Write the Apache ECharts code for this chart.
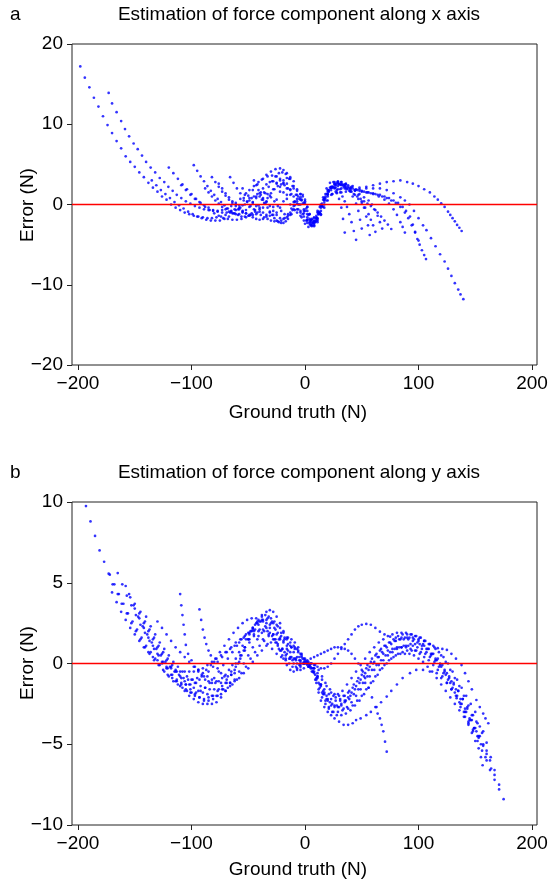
<!DOCTYPE html>
<html><head><meta charset="utf-8">
<script src="https://cdn.jsdelivr.net/npm/echarts@6/dist/echarts.min.js"></script>
<style>html,body{margin:0;padding:0;background:#fff}#c{width:548px;height:884px}</style>
</head><body><div id="c"></div>
<script>
// ---------- tick labels ----------
const xTicks = [-200, -100, 0, 100, 200];
const yTicksA = [-20, -10, 0, 10, 20];
const yTicksB = [-10, -5, 0, 5, 10];
const titleA = 'Estimation of force component along x axis';
const titleB = 'Estimation of force component along y axis';
const xLabel = 'Ground truth (N)';
const yLabel = 'Error (N)';
const X_MIN = -205.3, X_MAX = 204.4;   // x-axis extent
const ZERO = 0;                        // reference error level (red line)

// ---------- panel a: x-component error trajectories [ground truth, error] ----------
const a1 = [[-198,17.2],[-194,15.8],[-190,14.6],[-186,13.3],[-182,12.2],[-178,11.0],[-174,9.9],[-170,8.9],[-166,7.9],[-162,7.0],[-158,6.0],[-154,5.3],[-150,4.7],[-146,4.0],[-142,3.4],[-138,2.7],[-134,2.1],[-130,1.6],[-126,1.0],[-122,0.6],[-118,0.0],[-114,-0.4],[-110,-0.7],[-106,-1.0],[-102,-1.2],[-98,-1.4],[-94,-1.5],[-90,-1.6],[-86,-1.7],[-82,-1.7],[-78,-1.6],[-74,-1.5],[-70,-1.3],[-66,-1.0],[-62,-0.6],[-58,-0.1],[-54,0.5],[-50,1.1],[-46,1.8],[-42,2.5],[-38,3.1],[-34,3.7],[-30,4.1],[-26,4.4],[-22,4.5],[-19,4.3],[-16,3.9],[-13,3.2],[-10,2.3],[-7,1.2],[-4,0.0],[-1,-1.1],[2,-2.0],[5,-2.5],[8,-2.4],[11,-1.8],[14,-0.8],[17,0.3],[20,1.3],[23,2.1],[26,2.6],[29,2.8],[32,2.8],[36,2.6],[42,2.3],[48,2.1],[54,2.0],[60,2.0],[66,2.0],[72,1.8],[78,1.4],[84,0.9],[88,0.5],[92,0.0],[96,-0.8],[100,-1.7],[104,-2.6],[107,-3.2],[111,-4.2],[115,-5.2],[119,-6.2],[123,-7.1],[126,-8.0],[129,-8.9],[132,-9.8],[135,-10.6],[137,-11.2],[139.5,-11.8]];
const a2 = [[-173,13.9],[-170,12.6],[-166,11.5],[-162,10.4],[-158.6,9.4],[-155,8.5],[-151,7.6],[-147.4,6.9],[-143.6,6.1],[-140,5.3],[-136,4.6],[-132,4.0],[-128,3.3],[-124,2.8],[-120.4,2.2],[-116.6,1.7],[-113,1.2],[-109,0.8],[-105,0.4],[-101,0.1],[-97,-0.2],[-93,-0.4],[-89,-0.6],[-85,-0.7],[-81,-0.8],[-77,-0.8],[-73,-0.7],[-69,-0.5],[-65,-0.2],[-61,0.2],[-57,0.7],[-53,1.2],[-49,1.8],[-45,2.3],[-41,2.8],[-37,3.2],[-33,3.5],[-29,3.6],[-25,3.5],[-22,3.2],[-19,2.7],[-16,2.0],[-13,1.2],[-10,0.3],[-7,-0.6],[-4,-1.4],[-1,-2.0],[2,-2.3],[5,-2.2],[8,-1.6],[11,-0.8],[14,0.0],[17,0.6],[20,1.0],[24,1.3],[28,1.4],[32,1.5],[36,1.6],[40,1.7],[44,1.8],[48,1.9],[54,2.2],[60,2.4],[66,2.6],[72,2.8],[78,2.9],[84,3.0],[90,2.8],[95,2.6],[100,2.3],[105,1.9],[110,1.5],[114,1.0],[117,0.6],[120,0.15],[123,-0.3],[126,-0.9],[128,-1.3],[130,-1.7],[132,-2.1],[134,-2.55],[136,-2.9],[138,-3.3]];
const a3 = [[-120,4.6],[-116,3.9],[-112,3.2],[-108,2.5],[-104,1.9],[-100,1.3],[-96,0.7],[-92,0.2],[-88,-0.3],[-84,-0.7],[-80,-1.1],[-76,-1.4],[-72,-1.7],[-68,-1.8],[-64,-1.9],[-60,-1.9],[-56,-1.8],[-52,-1.6],[-48,-1.3],[-44,-0.9],[-40,-0.4],[-36,0.2],[-33,0.8],[-30,1.4],[-27,1.9],[-24,2.3],[-21,2.5],[-18,2.4],[-15,2.0],[-12,1.3],[-9,0.4],[-6,-0.6],[-3,-1.6],[0,-2.4],[3,-2.8],[6,-2.7],[9,-2.1],[12,-1.2],[15,-0.2],[18,0.8],[21,1.6],[24,2.1],[27,2.4],[30,2.5],[34,2.4],[38,2.2],[42,2.0],[46,1.8],[50,1.6],[54,1.5],[58,1.4],[62,1.3],[66,1.2],[70,1.0],[74,0.8],[78,0.5],[82,0.2],[86,-0.3],[89,-0.8],[92.5,-1.5],[95,-2.5],[97,-3.4],[99,-4.3],[101,-5.0],[103,-5.7],[105,-6.3],[106.6,-6.8]];
const a4 = [[-98,4.9],[-95,4.2],[-92,3.5],[-89,2.9],[-86,2.3],[-83,1.7],[-80,1.2],[-77,0.7],[-74,0.3],[-71,-0.1],[-68,-0.5],[-65,-0.8],[-62,-1.1],[-59,-1.3],[-56,-1.5],[-53,-1.5],[-50,-1.4],[-47,-1.1],[-44,-0.7],[-41,-0.1],[-38,0.6],[-35,1.4],[-32,2.2],[-29,2.9],[-26,3.5],[-23,3.9],[-20,4.0],[-17,3.8],[-14,3.2],[-11,2.3],[-8,1.2],[-5,0.0],[-2,-1.2],[1,-2.0],[4,-2.4],[7,-2.2],[10,-1.4],[13,-0.3],[16,0.9],[19,2.0],[22,2.7],[25,2.8],[28,2.7],[31,2.5],[34,2.2],[37,1.9],[40,1.6],[43,1.3],[46,1.0],[49,0.7],[52,0.4],[55,0.1],[58,-0.2],[61,-0.6],[64,-1.0],[67,-1.5],[70,-2.0],[73,-2.5],[76,-3.05]];
const a5 = [[-82,3.4],[-79,2.8],[-76,2.2],[-73,1.6],[-70,1.1],[-67,0.6],[-64,0.2],[-61,-0.2],[-58,-0.6],[-55,-0.9],[-52,-1.1],[-49,-1.3],[-46,-1.3],[-43,-1.2],[-40,-0.9],[-37,-0.4],[-34,0.3],[-31,1.1],[-28,1.9],[-25,2.6],[-22,3.0],[-19,3.0],[-16,2.6],[-13,1.9],[-10,1.0],[-7,0.1],[-4,-0.8],[-1,-1.5],[2,-1.9],[5,-2.0],[8,-1.7],[11,-1.0],[14,-0.1],[17,0.8],[20,1.6],[23,2.1],[26,2.5],[29,2.6],[32,2.5],[35,2.3],[38,2.0],[41,1.6],[44,1.2],[47,0.7],[50,0.2],[53,-0.4],[56,-1.2],[58,-1.9],[60,-2.6],[62,-3.4]];
const a6 = [[-66,3.4],[-63,2.7],[-60,2.0],[-57,1.4],[-54,0.8],[-51,0.3],[-48,-0.2],[-45,-0.6],[-42,-1.0],[-39,-1.3],[-36,-1.6],[-33,-1.8],[-30,-2.0],[-27,-2.1],[-24,-2.1],[-21,-2.0],[-18,-1.7],[-15,-1.2],[-12,-0.5],[-9,0.3],[-6,1.0],[-4,1.3],[-2,1.0],[0,0.2],[2,-0.8],[4,-1.8],[6,-2.6],[8,-2.6],[10,-2.0],[12,-1.2],[14,-0.4],[17,0.6],[20,1.3],[23,1.8],[26,2.1],[29,2.3],[32,2.4],[35,2.5],[38,2.4],[41,2.2],[44,1.8],[47,1.2],[50,0.4],[52,-0.4],[54,-1.5],[55.5,-2.6],[57,-3.8]];
const a7 = [[-45,3.0],[-43,2.4],[-41,1.8],[-39,1.2],[-37,0.6],[-35,0.1],[-33,-0.4],[-31,-0.9],[-29,-1.3],[-27,-1.7],[-25,-2.0],[-23,-2.2],[-21,-2.3],[-19,-2.3],[-17,-2.1],[-15,-1.8],[-13,-1.3],[-11,-0.7],[-9,-0.1],[-7,0.4],[-5,0.7],[-3,0.6],[-1,0.2],[1,-0.5],[3,-1.3],[5,-2.0],[7,-2.3],[9,-2.2],[11,-1.7],[13,-1.0],[15,-0.2],[17,0.6],[19,1.3],[21,1.8],[23,2.1],[25,2.2],[27,2.1],[29,1.9],[31,1.5],[33,1.0],[35,0.4],[37,-0.3],[39,-1.2],[41,-2.2],[43,-3.3],[45,-4.4]];
const a8 = [[-109,2.4],[-105,1.8],[-101,1.2],[-97,0.7],[-93,0.3],[-89,-0.1],[-85,-0.4],[-81,-0.7],[-77,-0.9],[-73,-1.0],[-69,-1.0],[-65,-0.9],[-61,-0.7],[-57,-0.4],[-53,0.0],[-49,0.5],[-45,1.0],[-42,1.3],[-39,1.5],[-36,1.5],[-33,1.3],[-30,0.9],[-27,0.4],[-24,-0.2],[-21,-0.8],[-18,-1.2],[-15,-1.4],[-12,-1.2],[-9,-0.7],[-6,0.0],[-3,0.5],[0,0.4],[2,-0.3],[4,-1.2],[6,-1.9],[8,-2.1],[10,-1.7],[12,-1.0],[14,-0.2],[16,0.6],[18,1.3],[20,1.8],[22,2.1],[24,2.2],[26,2.0],[28,1.5],[30,0.7],[32,-0.4],[33.5,-1.8],[35,-3.5]];
const a9 = [[-55,2.0],[-52,1.4],[-49,0.8],[-46,0.3],[-43,-0.2],[-40,-0.6],[-37,-1.0],[-34,-1.3],[-31,-1.4],[-28,-1.3],[-25,-1.0],[-22,-0.4],[-19,0.4],[-16,1.2],[-13,1.8],[-10,2.0],[-7,1.7],[-4,0.9],[-2,0.1],[0,-0.8],[2,-1.6],[4,-2.2],[6,-2.4],[8,-2.2],[10,-1.6],[12,-0.9],[15,0.1],[18,1.0],[21,1.7],[24,2.2],[27,2.5],[30,2.6],[33,2.5],[36,2.2],[39,1.7],[42,1.0],[45,0.1],[47,-0.8],[48.5,-1.9],[50,-3.0]];
const a10 = [[-88,2.0],[-85,1.5],[-82,1.0],[-79,0.5],[-76,0.1],[-73,-0.3],[-70,-0.6],[-67,-0.9],[-64,-1.1],[-61,-1.2],[-58,-1.2],[-55,-1.0],[-52,-0.7],[-49,-0.3],[-46,0.2],[-43,0.8],[-40,1.4],[-37,2.0],[-34,2.5],[-31,2.8],[-28,2.9],[-25,2.7],[-22,2.2],[-19,1.5],[-16,0.7],[-13,0.0],[-10,-0.6],[-7,-1.0],[-4,-1.0],[-1,-0.6],[2,-1.2],[5,-1.9],[8,-2.2],[11,-2.0],[14,-1.3],[17,-0.4],[20,0.5],[24,1.3],[28,1.8],[32,2.0],[36,2.0],[40,1.9],[44,1.8],[48,1.7],[52,1.6],[56,1.5],[60,1.4],[64,1.2],[68,1.0],[72,0.8],[76,0.5],[80,0.2],[84,-0.3],[88,-1.0],[91,-1.7],[94,-2.6],[97,-3.5],[100,-4.5]];
const a11 = [[-76,2.6],[-73,2.0],[-70,1.4],[-67,0.9],[-64,0.4],[-61,0.0],[-58,-0.4],[-55,-0.8],[-52,-1.1],[-49,-1.4],[-46,-1.6],[-43,-1.8],[-40,-1.9],[-37,-1.8],[-34,-1.5],[-31,-1.0],[-28,-0.3],[-25,0.6],[-22,1.6],[-19,2.6],[-16,3.3],[-13,3.4],[-10,2.9],[-7,1.9],[-4,0.6],[-1,-0.8],[2,-1.9],[5,-2.6],[8,-2.7],[11,-2.2],[14,-1.2],[17,0.0],[20,1.2],[23,2.2],[26,2.8],[29,2.9],[32,2.8],[36,2.5],[40,2.1],[44,1.7],[48,1.3],[52,0.9],[56,0.5],[59,0.0],[62,-0.7],[64,-1.4],[66,-2.2],[68,-3.0]];
const a12 = [[-135,3.0],[-131,2.4],[-127,1.8],[-123,1.3],[-119,0.8],[-115,0.3],[-111,-0.1],[-107,-0.5],[-103,-0.9],[-99,-1.2],[-95,-1.5],[-91,-1.7],[-87,-1.9],[-83,-2.0],[-79,-2.0],[-75,-2.0],[-71,-1.8],[-67,-1.5],[-63,-1.1],[-59,-0.6],[-55,-0.1],[-51,0.4],[-47,0.8],[-43,1.0],[-40,1.0],[-37,0.8],[-34,0.4],[-31,-0.2],[-28,-0.8],[-25,-1.3],[-22,-1.7],[-19,-1.8],[-16,-1.6],[-13,-1.0],[-10,-0.2],[-7,0.7],[-4,1.3],[-2,1.2],[0,0.6],[2,-0.3],[4,-1.2],[6,-1.8],[8,-2.0],[10,-1.8],[13,-1.1],[16,-0.3],[19,0.5],[23,1.2],[27,1.6],[31,1.9],[35,2.0],[40,2.0],[45,1.9],[50,1.7],[55,1.5],[60,1.3],[65,1.0],[70,0.6],[74,0.1],[78,-0.6],[81,-1.3],[84,-2.2],[86,-2.8],[88,-3.5]];

// ---------- panel b: y-component error trajectories [ground truth, error] ----------
const b1 = [[-193,9.75],[-189,8.8],[-185,7.9],[-181,7.0],[-177,6.3],[-173,5.56],[-169.5,4.9],[-165,4.3],[-161.5,3.7],[-157,3.1],[-153,2.5],[-149,2.0],[-145,1.5],[-141,1.0],[-137,0.6],[-133,0.2],[-129,-0.1],[-125,-0.4],[-121,-0.7],[-117,-0.9],[-113,-1.1],[-109,-1.2],[-105,-1.3],[-101,-1.3],[-97,-1.2],[-93,-1.0],[-89,-0.8],[-85,-0.5],[-81,-0.2],[-77,0.1],[-73,0.4],[-69,0.7],[-65,1.0],[-61,1.3],[-57,1.5],[-53,1.7],[-49,1.8],[-45,1.8],[-41,1.7],[-37,1.5],[-33,1.2],[-29,0.9],[-25,0.6],[-21,0.4],[-17,0.3],[-13,0.3],[-9,0.3],[-5,0.2],[-1,0.0],[3,-0.2],[7,-0.3],[11,-0.6],[15,-1.0],[19,-1.4],[23,-1.8],[27,-2.1],[31,-2.3],[35,-2.3],[39,-2.2],[43,-1.9],[47,-1.6],[51,-1.2],[55,-0.8],[59,-0.4],[63,-0.1],[67,0.2],[71,0.5],[75,0.7],[79,0.9],[83,1.0],[87,1.1],[91,1.1],[95,1.1],[99,1.0],[103,0.9],[107,0.7],[111,0.5],[115,0.2],[119,-0.1],[123,-0.5],[127,-0.9],[131,-1.3],[135,-1.7],[139,-2.2],[143,-2.8],[147,-3.5],[151,-4.2],[155,-5.0],[159,-5.8],[163,-6.6],[167,-7.2],[171,-7.8],[175,-8.4]];
const b2 = [[-172,5.5],[-168,4.9],[-164,4.3],[-160,3.7],[-156,3.1],[-152,2.6],[-148,2.1],[-144,1.6],[-140,1.1],[-136,0.7],[-132,0.3],[-128,-0.1],[-124,-0.5],[-120,-0.8],[-116,-1.1],[-112,-1.3],[-108,-1.5],[-104,-1.7],[-100,-1.8],[-96,-1.8],[-92,-1.7],[-88,-1.5],[-84,-1.2],[-80,-0.9],[-76,-0.5],[-72,-0.1],[-68,0.3],[-64,0.7],[-60,1.1],[-56,1.5],[-52,1.8],[-48,2.0],[-44,2.1],[-40,2.1],[-36,2.0],[-32,1.8],[-28,1.5],[-24,1.2],[-20,0.9],[-16,0.6],[-12,0.4],[-8,0.2],[-4,0.1],[0,0.0],[4,-0.1],[8,-0.3],[11,-0.8],[14,-1.3],[17,-1.8],[20,-2.2],[24,-2.5],[28,-2.6],[32,-2.5],[36,-2.3],[40,-2.0],[44,-1.6],[48,-1.2],[52,-0.8],[56,-0.4],[60,0.0],[64,0.4],[68,0.7],[72,1.0],[76,1.2],[80,1.4],[84,1.5],[88,1.6],[92,1.6],[96,1.5],[100,1.4],[104,1.2],[108,0.9],[112,0.6],[116,0.2],[120,-0.2],[124,-0.7],[128,-1.2],[132,-1.8],[136,-2.4],[140,-3.0],[144,-3.6],[148,-4.2],[152,-4.8],[156,-5.4],[160,-6.0],[164,-6.5],[167,-6.9],[171,-7.5]];
const b3 = [[-165,5.6],[-161,4.9],[-157,4.2],[-153,3.6],[-149,3.0],[-145,2.4],[-141,1.9],[-137,1.4],[-133,0.9],[-129,0.5],[-125,0.1],[-121,-0.3],[-117,-0.7],[-113,-1.0],[-109,-1.3],[-105,-1.6],[-101,-1.8],[-97,-2.0],[-93,-2.1],[-89,-2.2],[-85,-2.1],[-81,-2.0],[-77,-1.7],[-73,-1.4],[-69,-1.0],[-65,-0.5],[-61,0.0],[-57,0.5],[-53,1.0],[-49,1.5],[-45,2.0],[-41,2.4],[-37,2.7],[-33,2.8],[-30,2.8],[-27,2.6],[-24,2.3],[-21,1.9],[-18,1.5],[-15,1.2],[-12,1.0],[-9,0.9],[-6,0.7],[-3,0.4],[0,0.1],[3,-0.2],[6,-0.5],[9,-1.0],[12,-1.6],[15,-2.1],[18,-2.5],[21,-2.8],[25,-3.0],[29,-3.0],[33,-2.9],[37,-2.7],[41,-2.4],[45,-2.0],[49,-1.6],[53,-1.2],[57,-0.8],[61,-0.4],[65,-0.1],[69,0.2],[73,0.5],[77,0.7],[81,0.9],[85,1.0],[89,1.1],[93,1.2],[97,1.2],[101,1.2],[105,1.1],[109,0.9],[113,0.6],[117,0.3],[121,-0.1],[125,-0.6],[129,-1.1],[133,-1.6],[137,-2.2],[141,-2.8],[145,-3.4],[149,-4.0],[153,-4.6],[157,-5.1],[160,-5.6],[163,-6.0],[167,-6.6]];
const b4 = [[-158,4.8],[-154,4.1],[-150,3.4],[-146,2.8],[-142,2.2],[-138,1.6],[-134,1.1],[-130,0.6],[-126,0.1],[-122,-0.3],[-118,-0.7],[-114,-1.1],[-110,-1.4],[-106,-1.7],[-102,-2.0],[-98,-2.2],[-94,-2.4],[-90,-2.5],[-86,-2.5],[-82,-2.5],[-78,-2.4],[-74,-2.1],[-70,-1.7],[-66,-1.2],[-62,-0.6],[-58,0.1],[-54,0.8],[-50,1.5],[-46,2.1],[-42,2.6],[-38,3.0],[-34,3.2],[-31,3.3],[-28,3.2],[-25,2.9],[-22,2.5],[-19,2.0],[-16,1.6],[-13,1.3],[-10,1.1],[-7,0.9],[-4,0.6],[-1,0.3],[2,0.0],[5,-0.3],[8,-0.6],[10,-1.2],[12,-1.8],[14,-2.3],[17,-2.7],[20,-3.0],[23,-3.2],[26,-3.4],[30,-3.6],[34,-3.8],[38,-3.8],[42,-3.7],[45,-3.5],[49,-3.4],[54,-3.2],[58,-3.0],[63,-2.7],[67,-2.4],[72,-2.05],[76,-1.7],[81,-1.3],[86,-0.9],[92.5,-0.6],[98,-0.4],[104,-0.4],[110,-0.5],[116,-0.6],[120,-0.9],[125,-1.2],[129,-1.6],[133.6,-2.15],[137,-2.7],[141,-3.3],[144,-3.8],[147,-4.3],[150,-4.8],[153,-5.25],[155,-5.8],[156.5,-6.3]];
const b5 = [[-150,3.7],[-146,3.1],[-142,2.5],[-138,2.0],[-134,1.5],[-130,1.0],[-126,0.6],[-122,0.2],[-118,-0.2],[-114,-0.5],[-110,-0.8],[-106,-1.1],[-102,-1.3],[-98,-1.5],[-94,-1.7],[-90,-1.8],[-86,-1.9],[-82,-2.0],[-78,-2.0],[-74,-1.9],[-70,-1.7],[-66,-1.4],[-62,-1.0],[-58,-0.5],[-54,0.0],[-50,0.5],[-46,1.0],[-42,1.5],[-38,1.9],[-34,2.2],[-31,2.4],[-28,2.5],[-25,2.4],[-22,2.2],[-19,1.9],[-16,1.5],[-13,1.1],[-10,0.7],[-7,0.4],[-4,0.2],[-1,0.1],[2,0.0],[5,-0.2],[8,-0.5],[11,-0.9],[14,-1.3],[17,-1.6],[21,-1.9],[25,-2.0],[29,-1.9],[33,-1.7],[37,-1.3],[41,-0.9],[45,-0.5],[49,-0.1],[53,0.3],[57,0.7],[61,1.0],[65,1.3],[69,1.5],[73,1.7],[77,1.8],[81,1.9],[85,1.9],[89,1.9],[93,1.8],[97,1.7],[101,1.6],[105,1.4],[109,1.2],[113,1.1],[117,0.95],[121,0.9],[125,0.84],[129,0.6],[133,0.3],[137.9,-0.1],[141,-0.6],[144,-1.1],[147,-1.6],[151,-2.26],[154,-2.7],[157,-3.1],[159,-3.4],[161.5,-3.7]];
const b6 = [[-140,2.9],[-136,2.3],[-132,1.8],[-128,1.3],[-124,0.9],[-120,0.5],[-116,0.1],[-112,-0.2],[-108,-0.5],[-104,-0.8],[-100,-1.0],[-96,-1.2],[-92,-1.4],[-88,-1.5],[-84,-1.6],[-80,-1.6],[-76,-1.6],[-72,-1.6],[-68,-1.5],[-64,-1.3],[-60,-1.0],[-56,-0.6],[-52,-0.2],[-48,0.3],[-44,0.7],[-40,1.1],[-36,1.4],[-32,1.7],[-28,1.8],[-25,1.8],[-22,1.6],[-19,1.3],[-16,0.9],[-13,0.4],[-10,0.0],[-7,-0.3],[-4,-0.4],[-1,-0.3],[2,-0.1],[5,0.0],[8,-0.1],[11,-0.2],[14,-0.3],[17,-0.3],[20,-0.2],[23,0.0],[26,0.3],[29,0.6],[32,0.9],[35,1.2],[38,1.5],[41,1.8],[44,2.1],[47,2.3],[50,2.4],[54,2.45],[58,2.4],[62,2.2],[66,1.97],[70,1.8],[75,1.66],[80,1.6],[85,1.6],[90,1.6],[95,1.6],[100,1.5],[105,1.4],[110,1.2],[115,0.9],[120,0.5],[124,0.1],[128,-0.4],[132,-0.9],[136,-1.4],[140,-2.0],[144,-2.6],[148,-3.2],[152,-3.7],[156,-4.3],[160,-4.9]];
const b7 = [[-130,2.6],[-126,2.2],[-122,1.8],[-118,1.4],[-114,1.0],[-110,0.7],[-106,0.4],[-102,0.1],[-98,-0.2],[-94,-0.4],[-90,-0.6],[-86,-0.8],[-82,-1.0],[-78,-1.1],[-74,-1.2],[-70,-1.2],[-66,-1.2],[-62,-1.1],[-58,-0.9],[-54,-0.6],[-50,-0.3],[-46,0.1],[-42,0.5],[-38,0.8],[-34,1.1],[-30,1.3],[-26,1.5],[-22,1.5],[-19,1.4],[-16,1.1],[-13,0.7],[-10,0.3],[-7,0.0],[-4,-0.1],[-1,0.0],[2,0.2],[5,0.3],[8,0.4],[11,0.5],[14,0.6],[17,0.7],[20,0.8],[23,0.9],[26,1.0],[29,1.0],[32,1.0],[35,0.9],[38,0.8],[41,0.6],[44,0.3],[47,0.0],[50,-0.4],[53,-0.9],[56,-1.5],[59,-2.1],[62,-2.7],[64,-3.1],[66,-3.4],[67.5,-3.8],[69,-4.2],[70.5,-4.84],[72,-5.46]];
const b8 = [[-110,4.3],[-109,3.6],[-108,3.0],[-107,2.4],[-106,1.8],[-105,1.15],[-103,0.6],[-100,0.2],[-97,-0.2],[-94,-0.5],[-91,-0.8],[-88,-1.0],[-85,-1.1],[-82,-1.2],[-79,-1.2],[-76,-1.1],[-73,-0.9],[-70,-0.7],[-67,-0.4],[-64,-0.1],[-61,0.3],[-58,0.7],[-55,1.1],[-52,1.5],[-49,1.9],[-46,2.2],[-43,2.5],[-40,2.6],[-37,2.6],[-34,2.5],[-31,2.2],[-28,1.8],[-25,1.3],[-22,0.8],[-19,0.3],[-16,-0.1],[-13,-0.4],[-10,-0.5],[-7,-0.4],[-4,-0.2],[-1,0.0],[2,0.1],[5,0.0],[8,-0.3],[11,-0.8],[14,-1.4],[17,-1.9],[20,-2.3],[23,-2.6],[26,-2.7],[29,-2.7],[32,-2.6],[35,-2.4],[38,-2.1],[41,-1.8],[45,-1.4],[49,-1.0],[53,-0.6],[57,-0.2],[61,0.1],[65,0.4],[69,0.6],[73,0.8],[77,0.9],[81,1.0],[85,1.0],[89,1.0],[93,0.9],[97,0.8],[101,0.6],[105,0.4],[109,0.2],[113,-0.1],[117,-0.4],[121,-0.8],[125,-1.2],[129,-1.6],[133,-2.0],[137,-2.5],[141,-3.0],[145,-3.5],[149,-4.0],[153,-4.5],[157,-5.0],[160,-5.4],[163.6,-5.8]];
const b9 = [[-93,3.35],[-91.5,2.7],[-90,2.1],[-88.5,1.6],[-87,1.2],[-85,0.8],[-83,0.5],[-80,0.1],[-77,-0.3],[-74,-0.6],[-71,-0.8],[-68,-0.8],[-65,-0.7],[-62,-0.4],[-59,0.0],[-56,0.5],[-53,1.0],[-50,1.5],[-47,2.0],[-44,2.4],[-41,2.7],[-38,2.9],[-35,3.0],[-32,2.9],[-29,2.6],[-26,2.1],[-23,1.5],[-20,0.9],[-17,0.5],[-14,0.3],[-11,0.2],[-8,0.3],[-5,0.4],[-2,0.3],[1,0.1],[4,-0.1],[7,-0.5],[10,-1.0],[13,-1.5],[16,-1.9],[19,-2.2],[22,-2.4],[26,-2.6],[30,-2.7],[34,-2.8],[38,-2.8],[42,-2.6],[46,-2.3],[50,-2.0],[54,-1.6],[58,-1.2],[62,-0.8],[66,-0.4],[70,-0.1],[74,0.2],[78,0.4],[82,0.6],[86,0.7],[90,0.8],[94,0.8],[98,0.8],[102,0.7],[106,0.6],[110,0.4],[114,0.1],[118,-0.2],[122,-0.6],[126,-1.0],[130,-1.5],[134,-2.0],[138,-2.5],[142,-3.0],[146,-3.5],[150,-4.0],[154,-4.5]];
const b10 = [[-145,3.2],[-141,2.6],[-137,2.1],[-133,1.6],[-129,1.1],[-125,0.7],[-121,0.3],[-117,-0.1],[-113,-0.5],[-109,-0.9],[-105,-1.3],[-101,-1.6],[-97,-1.9],[-93,-2.1],[-89,-2.3],[-85,-2.3],[-81,-2.2],[-77,-2.0],[-73,-1.6],[-69,-1.2],[-65,-0.7],[-61,-0.2],[-57,0.3],[-53,0.8],[-49,1.3],[-45,1.7],[-41,2.0],[-37,2.1],[-33,2.0],[-29,1.7],[-26,1.3],[-23,0.9],[-20,0.5],[-17,0.2],[-14,0.0],[-11,-0.2],[-8,-0.2],[-5,-0.1],[-2,0.0],[1,0.0],[4,-0.2],[7,-0.5],[10,-0.9],[13,-1.3],[16,-1.7],[19,-2.0],[23,-2.2],[27,-2.3],[31,-2.2],[35,-2.0],[39,-1.7],[43,-1.3],[47,-0.9],[51,-0.5],[55,-0.1],[59,0.3],[63,0.6],[67,0.9],[71,1.1],[75,1.3],[79,1.4],[83,1.5],[87,1.5],[91,1.5],[95,1.4],[99,1.3],[103,1.1],[107,0.9],[111,0.6],[115,0.3],[119,0.0],[123,-0.4],[127,-0.8],[131,-1.2],[135,-1.7],[139,-2.2],[143,-2.7],[147,-3.2],[151,-3.6],[154,-3.9],[157,-4.2]];
const b11 = [[-155,4.3],[-151,3.6],[-147,2.9],[-143,2.3],[-139,1.8],[-135,1.3],[-131,0.9],[-127,0.5],[-123,0.1],[-119,-0.2],[-115,-0.5],[-111,-0.7],[-107,-0.9],[-103,-1.0],[-99,-1.0],[-95,-0.9],[-91,-0.7],[-87,-0.4],[-83,-0.1],[-79,0.3],[-75,0.7],[-71,1.1],[-67,1.5],[-63,1.9],[-59,2.2],[-55,2.5],[-51,2.7],[-47,2.8],[-43,2.8],[-39,2.6],[-35,2.3],[-31,1.9],[-27,1.5],[-24,1.1],[-21,0.8],[-18,0.7],[-15,0.8],[-12,1.0],[-9,1.0],[-6,0.8],[-3,0.5],[0,0.2],[3,0.0],[6,-0.3],[9,-0.7],[12,-1.2],[15,-1.8],[18,-2.3],[21,-2.7],[24,-3.0],[28,-3.2],[32,-3.2],[36,-3.1],[40,-2.9],[44,-2.6],[48,-2.3],[52,-1.9],[56,-1.5],[60,-1.1],[64,-0.7],[68,-0.3],[72,0.0],[76,0.3],[80,0.5],[84,0.6],[88,0.6],[92,0.6],[96,0.5],[100,0.3],[104,0.1],[108,-0.2],[112,-0.5],[116,-0.9],[120,-1.3],[124,-1.7],[128,-2.1],[132,-2.5],[136,-2.9],[140,-3.3],[144,-3.7],[148,-4.1],[152,-4.5]];
const b12 = [[-170,4.4],[-166,3.8],[-162,3.2],[-158,2.7],[-154,2.2],[-150,1.8],[-146,1.4],[-142,1.0],[-138,0.7],[-134,0.4],[-130,0.2],[-126,0.0],[-122,-0.2],[-118,-0.3],[-114,-0.4],[-110,-0.5],[-106,-0.5],[-102,-0.5],[-98,-0.5],[-94,-0.4],[-90,-0.3],[-86,-0.1],[-82,0.1],[-78,0.3],[-74,0.5],[-70,0.7],[-66,0.9],[-62,1.1],[-58,1.3],[-54,1.6],[-50,1.9],[-46,2.2],[-42,2.5],[-38,2.7],[-34,2.7],[-30,2.5],[-27,2.2],[-24,1.9],[-21,1.7],[-18,1.6],[-15,1.6],[-12,1.5],[-9,1.3],[-6,1.0],[-3,0.6],[0,0.3],[3,0.1],[6,0.0],[9,-0.1],[12,-0.4],[15,-0.8],[18,-1.2],[22,-1.6],[26,-1.9],[30,-2.0],[34,-2.0],[38,-1.8],[42,-1.5],[46,-1.1],[50,-0.7],[54,-0.3],[58,0.1],[62,0.5],[66,0.8],[70,1.1],[74,1.3],[78,1.5],[82,1.7],[86,1.8],[90,1.8],[94,1.8],[98,1.7],[102,1.6],[106,1.4],[110,1.2],[114,1.0],[118,0.7],[122,0.4],[126,0.0],[130,-0.5],[134,-1.0],[138,-1.5],[142,-2.0],[146,-2.5],[150,-3.0]];

const trajA = [a1,a2,a3,a4,a5,a6,a7,a8,a9,a10,a11,a12];
const trajB = [b1,b2,b3,b4,b5,b6,b7,b8,b9,b10,b11,b12];

// ---------- chart ----------
const FONT = '"Liberation Sans", Arial, sans-serif';
const FS = 19;
const chart = echarts.init(document.getElementById('c'), null, {renderer: 'canvas'});
const fmt = v => (v < 0 ? '\u2212' + Math.abs(v) : String(v));

function xAxisCfg(idx) {
  return {
    type: 'value', gridIndex: idx, min: X_MIN, max: X_MAX, position: 'bottom',
    axisLine: {show: false, onZero: false},
    axisTick: {show: true, inside: false, length: 5, lineStyle: {color: '#222'}, customValues: xTicks},
    axisLabel: {color: '#000', fontSize: FS, fontFamily: FONT, margin: 9, customValues: xTicks, formatter: fmt},
    splitLine: {show: false}
  };
}
function yAxisCfg(idx, ticks) {
  return {
    type: 'value', gridIndex: idx, min: ticks[0], max: ticks[ticks.length - 1], interval: ticks[1] - ticks[0], position: 'left',
    axisLine: {show: false, onZero: false},
    axisTick: {show: true, inside: false, length: 5, lineStyle: {color: '#222'}},
    axisLabel: {color: '#000', fontSize: FS, fontFamily: FONT, margin: 9, formatter: fmt},
    splitLine: {show: false}
  };
}

const series = [];
trajA.forEach(d => series.push({
  type: 'scatter', xAxisIndex: 0, yAxisIndex: 0, data: d, symbolSize: 2.7,
  itemStyle: {color: '#0000ff'}, animation: false, z: 2
}));
trajB.forEach(d => series.push({
  type: 'scatter', xAxisIndex: 1, yAxisIndex: 1, data: d, symbolSize: 2.7,
  itemStyle: {color: '#0000ff'}, animation: false, z: 2
}));

function txt(id, text, x, y, opts) {
  return Object.assign({id: id, type: 'text', x: x, y: y, silent: true,
    style: {text: text, fill: '#000', fontSize: FS, fontFamily: FONT, align: 'center', verticalAlign: 'middle'}}, opts || {});
}
const texts = [
  txt('tA', titleA, 299, 15),
  txt('tB', titleB, 299, 473),
  txt('pA', 'a', 10, 15, {style: {text: 'a', fill: '#000', fontSize: FS, fontFamily: FONT, align: 'left', verticalAlign: 'middle'}}),
  txt('pB', 'b', 10, 473, {style: {text: 'b', fill: '#000', fontSize: FS, fontFamily: FONT, align: 'left', verticalAlign: 'middle'}}),
  txt('xA', xLabel, 298, 413),
  txt('xB', xLabel, 298, 870),
  txt('yA', yLabel, 28, 205, {rotation: Math.PI / 2}),
  txt('yB', yLabel, 28, 663, {rotation: Math.PI / 2})
];

chart.setOption({
  animation: false,
  backgroundColor: '#fff',
  grid: [
    {left: 72, top: 44, width: 465, height: 321, show: true, borderColor: '#222', borderWidth: 1, backgroundColor: 'transparent', containLabel: false, outerBoundsMode: 'none'},
    {left: 72, top: 502, width: 465, height: 323, show: true, borderColor: '#222', borderWidth: 1, backgroundColor: 'transparent', containLabel: false, outerBoundsMode: 'none'}
  ],
  xAxis: [xAxisCfg(0), xAxisCfg(1)],
  yAxis: [yAxisCfg(0, yTicksA), yAxisCfg(1, yTicksB)],
  graphic: texts,
  series: series
});

// red zero-error reference line in each panel, placed through the chart's own scales
function zeroLine(id, gridIndex) {
  const p0 = chart.convertToPixel({gridIndex: gridIndex}, [X_MIN, ZERO]);
  const p1 = chart.convertToPixel({gridIndex: gridIndex}, [X_MAX, ZERO]);
  return {id: id, type: 'line', silent: true, z: 100, zlevel: 1,
    shape: {x1: p0[0], y1: p0[1], x2: p1[0], y2: p1[1]},
    style: {stroke: '#ff0000', lineWidth: 1.5}};
}
chart.setOption({graphic: texts.concat([zeroLine('zA', 0), zeroLine('zB', 1)])});
</script>
</body></html>
